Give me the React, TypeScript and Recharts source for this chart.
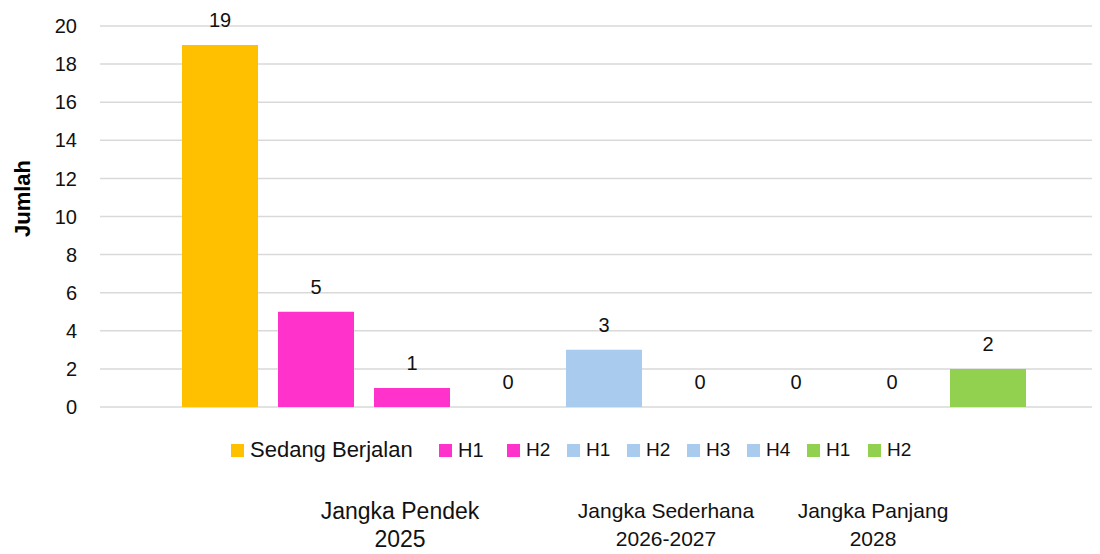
import { BarChart, Bar, XAxis, YAxis, CartesianGrid, LabelList } from 'recharts';

const seriesNames = ['Sedang Berjalan', 'H1', 'H2', 'H1', 'H2', 'H3', 'H4', 'H1', 'H2'];
const seriesValues = [19, 5, 1, 0, 3, 0, 0, 0, 2];
const seriesColors = [
  '#FFC000',
  '#FF33CC',
  '#FF33CC',
  '#A9CBEE',
  '#A9CBEE',
  '#A9CBEE',
  '#A9CBEE',
  '#92D050',
  '#92D050',
];
const yTicks = [0, 2, 4, 6, 8, 10, 12, 14, 16, 18, 20];
const groupLabels = [
  ['Jangka Pendek', '2025'],
  ['Jangka Sederhana', '2026-2027'],
  ['Jangka Panjang', '2028'],
];

const FONT = '"Liberation Sans", Arial, sans-serif';

export default function App() {
  // one category, one bar series per period
  const row: Record<string, number | string> = { name: 'all' };
  seriesValues.forEach((v, i) => {
    row['s' + i] = v;
  });
  const data = [row];

  // layout only (left edges of legend items, centres of group captions)
  const legendLeft = [223, 431, 499, 559, 619, 679, 739, 799, 860];
  const legendSize = [22, 20, 19, 19, 19, 19, 19, 19, 19];
  const groupCenter = [392, 658, 865];
  const groupSize = [23, 21, 21];

  return (
    <div style={{ position: 'relative', width: 1092, height: 546, fontFamily: FONT }}>
      <BarChart
        width={1092}
        height={546}
        data={data}
        margin={{ top: 18, right: 0, bottom: 147, left: 0 }}
        barSize={76}
        barGap={20}
      >
        <CartesianGrid vertical={false} stroke='#D9D9D9' strokeWidth={1.5} />
        <XAxis dataKey='name' hide padding={{ left: 8, right: 0 }} />
        <YAxis
          width={92}
          domain={[0, 20]}
          ticks={yTicks}
          axisLine={false}
          tickLine={false}
          tickSize={0}
          tickMargin={23}
          interval={0}
          tick={{ fill: '#111', fontSize: 20, fontFamily: FONT }}
          label={{
            content: (props: any) => {
              const vb = props.viewBox || { x: 0, y: 0, height: 0 };
              const cx = vb.x + 14;
              const cy = vb.y + vb.height / 2 - 18;
              return (
                <text
                  x={cx}
                  y={cy}
                  transform={`rotate(-90, ${cx}, ${cy})`}
                  textAnchor='middle'
                  dominantBaseline='central'
                  fontSize={22}
                  fontWeight='bold'
                  fill='#000'
                  fontFamily={FONT}
                >
                  Jumlah
                </text>
              );
            },
          }}
        />
        {seriesNames.map((name, i) => (
          <Bar
            key={i}
            dataKey={'s' + i}
            name={name}
            fill={seriesColors[i]}
            minPointSize={0.01}
            isAnimationActive={false}
          >
            <LabelList
              dataKey={'s' + i}
              position='top'
              offset={18}
              fill='#111'
              fontSize={20}
              fontFamily={FONT}
            />
          </Bar>
        ))}
      </BarChart>

      {seriesNames.map((name, i) => (
        <div
          key={i}
          style={{
            position: 'absolute',
            left: legendLeft[i],
            top: 431,
            height: 22,
            display: 'flex',
            alignItems: 'center',
            fontSize: legendSize[i],
            color: '#111',
            whiteSpace: 'nowrap',
          }}
        >
          <span
            style={{
              display: 'inline-block',
              width: 13,
              height: 13,
              background: seriesColors[i],
              marginRight: 6,
            }}
          />
          {name}
        </div>
      ))}

      {groupLabels.map((lines, i) => (
        <div
          key={i}
          style={{
            position: 'absolute',
            left: groupCenter[i],
            top: 489,
            transform: 'translateX(-50%)',
            textAlign: 'center',
            fontSize: groupSize[i],
            lineHeight: '28px',
            color: '#111',
            whiteSpace: 'nowrap',
          }}
        >
          {lines[0]}
          <br />
          {lines[1]}
        </div>
      ))}
    </div>
  );
}
